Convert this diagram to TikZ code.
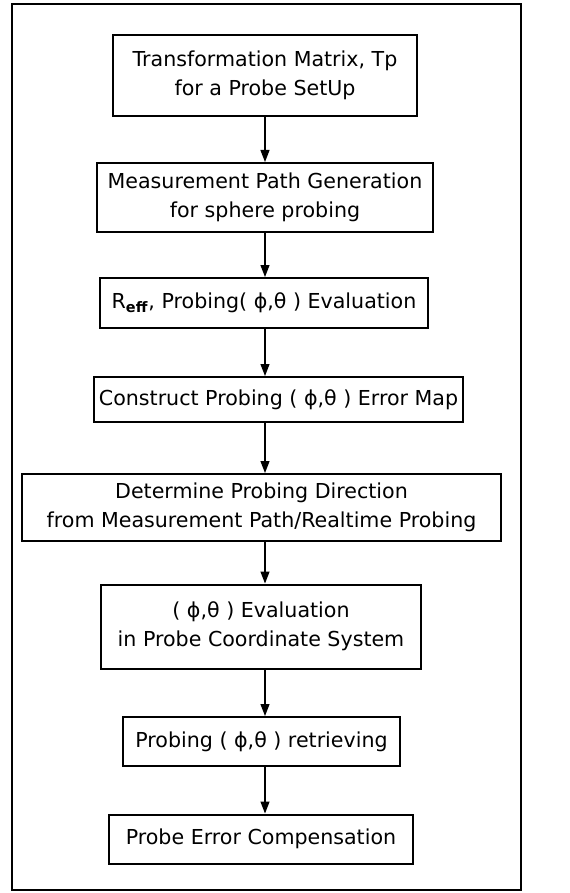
\documentclass[tikz,border=0pt]{standalone}
\usepackage{fontspec}
\setmainfont{DejaVu Sans}
\usepackage{tikz}
\usetikzlibrary{arrows.meta}

\tikzset{
  stepbox/.style={draw, line width=1pt, align=center, inner sep=2pt,
    font=\fontsize{10.3}{14.5}\selectfont},
  flow/.style={line width=0.6pt, -{Triangle[length=6pt,width=4.5pt]}}
}

\begin{document}
\begin{tikzpicture}[x=0.5pt,y=-0.5pt]
\useasboundingbox (0,0) rectangle (569,893);
% Frame
\draw[line width=1pt] (12,4) rectangle (521,890);
% Arrow axis
\coordinate (ax) at (265,0);
% Steps
\node[stepbox, minimum width=152pt, minimum height=40.5pt] (tmat) at (265,75.5)
  {Transformation Matrix, Tp\\for a Probe SetUp};
\node[stepbox, minimum width=168pt, minimum height=34.5pt] (mpath) at (265,197.5)
  {Measurement Path Generation\\for sphere probing};
\node[stepbox, minimum width=164pt, minimum height=25pt] (reff) at (264,303)
  {R\textsubscript{\bfseries eff}, Probing( ϕ,θ ) Evaluation};
\node[stepbox, minimum width=184.5pt, minimum height=22.5pt] (emap) at (278.5,399.5)
  {Construct Probing ( ϕ,θ ) Error Map};
\node[stepbox, minimum width=239.5pt, minimum height=33.5pt] (pdir) at (261.5,507.5)
  {Determine Probing Direction\\from Measurement Path/Realtime Probing};
\node[stepbox, minimum width=160pt, minimum height=42pt] (peval) at (261,626.5)
  {( ϕ,θ ) Evaluation\\in Probe Coordinate System};
\node[stepbox, minimum width=138.5pt, minimum height=24.5pt] (pret) at (261.5,741.5)
  {Probing ( ϕ,θ ) retrieving};
\node[stepbox, minimum width=152pt, minimum height=24.5pt] (pcomp) at (261,839)
  {Probe Error Compensation};
% Connect the steps
\draw[flow] (tmat.south -| ax) -- (mpath.north -| ax);
\draw[flow] (mpath.south -| ax) -- (reff.north -| ax);
\draw[flow] (reff.south -| ax) -- (emap.north -| ax);
\draw[flow] (emap.south -| ax) -- (pdir.north -| ax);
\draw[flow] (pdir.south -| ax) -- (peval.north -| ax);
\draw[flow] (peval.south -| ax) -- (pret.north -| ax);
\draw[flow] (pret.south -| ax) -- (pcomp.north -| ax);
\end{tikzpicture}
\end{document}
